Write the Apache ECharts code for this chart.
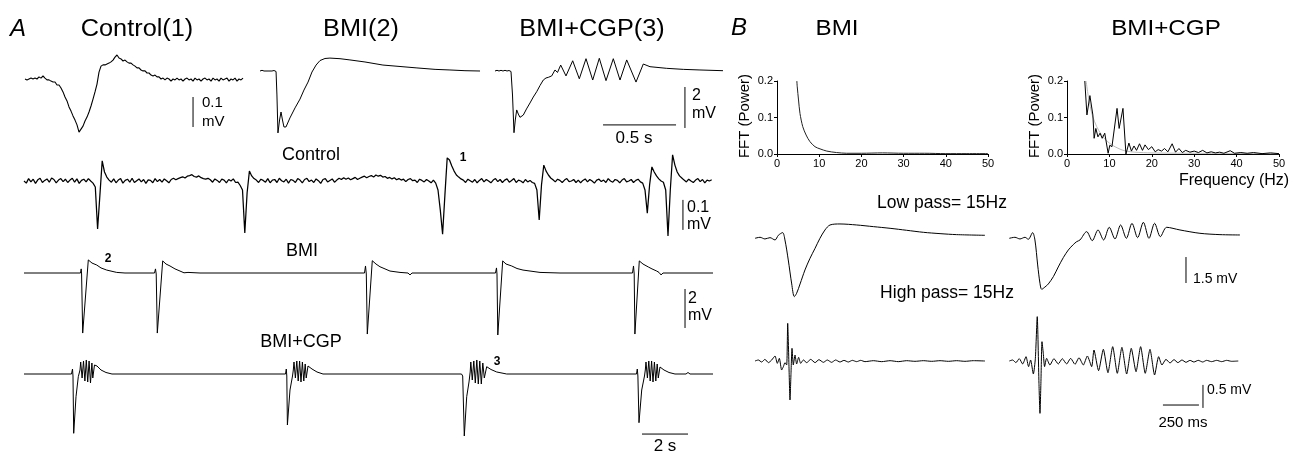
<!DOCTYPE html>
<html><head><meta charset="utf-8">
<script src="https://cdn.jsdelivr.net/npm/echarts@6/dist/echarts.min.js"></script>
<style>html,body{margin:0;padding:0;background:#fff}#c{width:1311px;height:452px}</style>
</head><body><div id="c"></div>
<script>
// ---------------- DATA ----------------
// Panel A insets: time in ms, voltage in mV (control in microvolts)
const ctl1Dt = 13.7; // ms per sample
const ctl1UV = [0,-3,0,3,0,3,0,7,3,10, 3,-3,-3,-7,-10,-10,-20,-20,-30,-43, -60,-73,-93,-107,-123,-137,-153,-177,-167,-157,
 -140,-127,-110,-90,-67,-43,-17,23,43,47, 47,50,53,57,63,73,80,70,67,60, 63,57,53,53,47,43,37,37,30,27,
 27,20,20,13,10,13,7,7,0,3, -3,3,0,-7,0,-3,3,-3,0,-7, 0,3,-3,0,-7,3,-3,0,-7,0, 3,-3,0,-7,3,-3,0,-7,3,-3, 0,3,-7,0,-3,3,-7,0,-3,3];
const bmi2 = [[0,0],[13.7,0.034],[27.4,0],[41,0.034],[55,0],[68.5,0.034],[82,0],[96,0.024],[110,-0.024],[116,-1.17],[123,-3.02],[134,-2.39],[144,-2.0],[154,-2.39],[164,-2.73],[178,-2.73],[205,-2.29],[240,-1.8],[274,-1.37],[301,-0.93],[329,-0.54],[356,-0.05],[384,0.29],[411,0.51],[445,0.61],[479,0.63],[548,0.6],[616,0.54],[719,0.44],[842,0.29],[959,0.22],[1075,0.15],[1199,0.08],[1301,0.05],[1404,0.015],[1507,0]];
const cgp3 = [[0,0],[13.7,0.034],[27.4,0],[41.1,0.034],[54.8,0],[68.5,0.034],[82.2,0],[95.9,0.024],[109.6,-0.024],[119.9,-1.171],[130.1,-3.01],[139,-2.39],[148.6,-1.9],[159.6,-2.1],[171.2,-2.26],[193.8,-2.15],[215.8,-1.85],[239.7,-1.56],[262.3,-1.27],[285.6,-1.01],[308.2,-0.71],[330.8,-0.44],[349.3,-0.34],[365.1,-0.31],[388.4,-0.24],[410.9,0.05],[428.1,-0.07],[450,0.29],[486.3,-0.24],[532.2,0.5],[577.4,-0.38],[623.3,0.6],[669.2,-0.44],[714.4,0.62],[760.3,-0.47],[810.3,0.6],[856.2,-0.44],[902.1,0.54],[965.8,-0.54],[1015.7,0.34],[1061.6,0.21],[1176,0.13],[1289.7,0.08],[1404,0.05],[1561.6,0.015]];

// Panel A long traces: time in s
const ctlLongDt = 0.1; // s per sample, microvolts
const ctlLongUV = [0,-7,8,-3,6,-8,4,9,-5,2, 7,-4,10,5,-6,3,8,-2,6,-5, 3,9,-4,7,-8,2,6,-3,8,0,
 -7,-20,-160,-47,67,30,13,3,-4,7, -6,3,8,-7,2,6,-4,9,-5,1, 7,-3,5,-8,4,2,-6,8,-2,5,
 -4,7,1,-6,5,9,4,8,11,14, 10,16,18,21,15,13,17,11,8,6, 9,4,-4,7,2,-5,6,3,-6,5,
 0,7,-5,-4,-15,-30,-173,-40,33,17, 8,3,-5,6,2,-4,8,-6,3,5, -5,9,1,-3,6,-7,5,2,-5,8,
 3,-6,5,9,-2,3,-5,7,1,-8, 5,8,-3,2,7,-4,3,9,5,11, 6,10,4,8,12,5,9,13,16,11,
 15,18,13,20,16,19,13,15,9,12, 7,11,4,8,3,6,-2,5,8,1, 3,-5,6,2,-3,5,0,-6,3,-7,
 -30,-97,-177,-47,77,70,50,33,20,13,7, 3,-5,6,1,-4,5,-6,2,8,
 -3,5,0,-6,3,8,-2,5,-5,3, 7,-4,2,8,-5,3,0,-6,5,-3, 2,-5,-8,
 -30,-130,-13,53,33,20,10, 4,-3,6,2,-5,3,8,-2,0,5, -5,3,-6,2,7,-3,5,0,-7,3,
 6,-2,3,-5,8,0,-4,5,2,-6, 3,8,-3,0,5,-5,2,6,-3,-7,
 -30,-107,-13,47,30,17,7, 0,-4,-30,-183,-30,87,53,30,17,10,3, -3,6,0,-5,3,8,-2,5,-6,3,0,4];
const bmiLong = [[0,0],[2.457,0],[2.487,0.21],[2.504,-0.05],[2.552,-3.08],[2.796,0.67],[2.957,0.51],[3.161,0.41],[3.348,0.26],[3.596,0.15],[4.03,0.03],[4.391,0],
 [5.674,0],[5.717,0.21],[5.748,-0.05],[5.796,-3.08],[6.03,0.62],[6.174,0.46],[6.348,0.36],[6.565,0.21],[6.783,0.1],[6.957,0.01],[7.022,-0.08],[7.13,0.03],[7.652,0],
 [11.522,0],[11.587,-0.08],[11.652,0],
 [14.804,0],[14.848,0.36],[14.883,-0.05],[14.926,-3.13],[15.143,0.63],[15.304,0.46],[15.478,0.32],[15.696,0.21],[15.913,0.1],[16.348,0.03],[16.696,0],[16.783,-0.1],[16.87,0],
 [20.5,0],[20.543,0.26],[20.565,-0.05],[20.6,-3.18],[20.813,0.62],[20.957,0.46],[21.204,0.36],[21.435,0.23],[21.696,0.15],[22.435,0.03],[23.304,0],
 [26.457,0],[26.5,0.36],[26.53,-0.05],[26.561,-3.13],[26.752,0.62],[26.913,0.46],[27.143,0.31],[27.304,0.21],[27.509,0.1],[27.609,0.03],[27.696,-0.1],[27.783,0],[29.957,0]];
const cgpLong = [[0,0],[2.065,0],[2.109,0.256],[2.13,-0.103],[2.161,-3.041],[2.261,-1.164],[2.361,-0.138],[2.435,0.205],
 [2.465,0.615],[2.526,-0.205],[2.587,0.667],[2.648,-0.359],[2.709,0.718],[2.77,-0.41],[2.83,0.667],[2.891,-0.462],[2.952,0.564],[2.991,-0.205],[3.065,0.462],[3.174,0.41],[3.348,0.205],[3.565,0.077],[3.826,0],
 [11.37,0],[11.404,0.256],[11.426,-0.103],[11.452,-2.615],[11.565,-0.821],[11.674,-0.103],[11.709,0.205],
 [11.739,0.615],[11.8,-0.205],[11.861,0.667],[11.922,-0.359],[11.983,0.667],[12.043,-0.41],[12.104,0.615],[12.165,-0.359],[12.226,0.513],[12.27,-0.205],[12.348,0.41],[12.522,0.256],[12.739,0.103],[13,0],
 [19.022,0],[19.074,-0.103],[19.143,-3.179],[19.248,-1.164],[19.348,-0.41],[19.4,0.103],
 [19.426,0.615],[19.491,-0.308],[19.557,0.667],[19.622,-0.462],[19.687,0.718],[19.752,-0.513],[19.817,0.667],[19.883,-0.513],[19.948,0.564],[20.013,-0.205],[20.117,0.374],[20.304,0.231],[20.552,0.103],[20.987,0],
 [26.63,0],[26.665,0.256],[26.691,-0.103],[26.739,-2.497],[26.857,-0.821],[26.978,-0.103],[27.013,0.205],
 [27.043,0.615],[27.104,-0.205],[27.165,0.667],[27.226,-0.359],[27.287,0.667],[27.348,-0.41],[27.409,0.615],[27.47,-0.359],[27.53,0.513],[27.578,-0.205],[27.652,0.359],[27.826,0.205],[28.043,0.077],[28.304,0],[28.783,0],[28.87,0.077],[28.957,0],[29.957,0]];

// Panel B FFT (Hz, power)
const fftXTicks = [0,10,20,30,40,50];
const fftYTicks = [0,0.1,0.2];
const fftBMI = [[4.7,0.2],[4.8,0.184],[5.1,0.148],[5.45,0.111],[6.1,0.075],[6.9,0.052],[7.8,0.034],[9,0.02],[10.2,0.014],[11.8,0.008],[14.1,0.004],[16.5,0.002],[20,0.002],[25,0.003],[30,0.002],[35,0.002],[40,0.001],[45,0.001],[50,0.001]];
const fftCGP = [[4.2,0.2],[4.7,0.107],[5.4,0.16],[6.1,0.107],[6.4,0.043],[6.8,0.07],[7.3,0.047],[7.8,0.057],[8.3,0.043],[8.9,0.057],[9.7,0.002],[10.1,0.024],[10.6,0.02],[11.8,0.125],[12.3,0.07],[13.2,0.125],[13.9,0.0],[14.6,0.03],[15.2,0.008],[15.8,0.022],[16.4,0.01],[17.1,0.028],[17.8,0.01],[18.4,0.025],[19.2,0.012],[20,0.02],[20.8,0.006],[21.5,0.012],[22.3,0.008],[23,0.015],[23.8,0.006],[24.8,0.028],[25.6,0.005],[26.4,0.015],[27.2,0.004],[28,0.01],[29,0.005],[30,0.008],[31,0.004],[32,0.01],[33,0.003],[34,0.006],[35,0.003],[36,0.005],[37,0.002],[38.5,0.009],[39.5,0.002],[41,0.004],[42.5,0.002],[44,0.004],[46,0.001],[48,0.003],[50,0.001]];
const fftCGPRef = [[4.5,0.2],[5,0.16],[5.5,0.13],[6,0.105],[7,0.075],[8,0.055],[9,0.04],[10,0.03],[11,0.022],[12,0.016],[13,0.011],[14,0.008],[16,0.005],[20,0.003],[30,0.002],[50,0.001]];

// Panel B filtered traces: time ms, voltage mV
const lpBMI = [[0,0],[35,0.058],[69,-0.038],[104,0.038],[139,-0.096],[162,0.173],[192,0.327],[208,-0.096],[231,-1.25],[255,-2.635],[273,-3.365],[289,-3.173],[313,-2.635],[347,-1.827],[382,-1.154],[417,-0.577],[451,0],[486,0.481],[521,0.769],[590,0.827],[706,0.769],[822,0.673],[938,0.577],[1053,0.462],[1169,0.346],[1285,0.269],[1400,0.212],[1597,0.173]];
const lpCGP = [[0,0],[39,0.058],[74,-0.038],[109,0.058],[132,-0.058],[162,0.327],[178,-0.096],[197,-1.538],[213,-2.596],[225,-2.942],[248,-2.808],[271,-2.635],[306,-2.212],[340,-1.654],[375,-1.115],[410,-0.673],[444,-0.365],[468,-0.192],[491,-0.096],[537,0.385],[576,-0.135],[616,0.481],[655,-0.096],[694,0.635],[734,-0.038],[773,0.769],[813,0],[852,0.865],[891,0.038],[931,0.923],[970,0],[1009,0.865],[1049,0.096],[1093,0.635],[1185,0.481],[1324,0.288],[1463,0.212],[1602,0.192]];
const hpBMI = [[0,0],[23,0.022],[46,-0.022],[69,0.036],[93,-0.036],[116,0.022],[139,0.109],[155,-0.051],[169,0.058],[185,-0.196],[197,-0.123],[208,-0.036],[220,-0.087],[227,0.819],[236,-0.123],[243,-0.848],[250,-0.268],[257,0.275],[266,-0.087],[278,0.13],[289,-0.065],[303,0.08],[317,-0.051],[336,0.022],[359,-0.036],[387,0.036],[417,-0.036],[444,0.029],[475,-0.029],[502,0.022],[532,-0.029],[560,0.022],[590,-0.022],[618,0.014],[648,-0.022],[676,0.014],[706,-0.014],[734,0.014],[764,-0.014],[822,0.007],[880,-0.014],[938,0.007],[995,-0.014],[1053,0.007],[1111,-0.007],[1169,0.007],[1227,-0.007],[1285,0.007],[1343,-0.007],[1400,0.007],[1458,-0.007],[1516,0.007],[1597,0]];
const hpCGP = [[0,0],[23,0.022],[46,-0.036],[69,0.051],[93,-0.065],[116,0.094],[134,-0.123],[148,0.022],[167,-0.283],[181,0.058],[194,0.964],[206,-0.486],[213,-1.138],[220,-0.413],[227,0.42],[236,0.167],[245,-0.123],[259,0.058],[282,-0.087],[310,0.051],[340,-0.065],[368,0.051],[398,-0.065],[426,0.058],[456,-0.072],[484,0.072],[514,-0.087],[542,0.109],[572,-0.123],[588,0.239],[620,-0.21],[653,0.254],[685,-0.254],[718,0.312],[750,-0.268],[782,0.297],[815,-0.283],[847,0.275],[880,-0.232],[912,0.312],[944,-0.268],[977,0.254],[1009,-0.304],[1037,0.094],[1060,-0.087],[1088,0.036],[1116,-0.043],[1144,0.029],[1171,-0.036],[1199,0.022],[1227,-0.029],[1255,0.014],[1282,-0.022],[1312,0.014],[1343,-0.022],[1370,0.014],[1405,-0.014],[1440,0.014],[1475,-0.014],[1509,0.014],[1544,-0.007],[1590,0]];

// Scale bars (in each trace's own data units)
const scaleBars = [
  {g:'ctl1', pts:[[1151,-60],[1151,-160]]},       // 0.1 mV = 100 uV
  {g:'cgp3', pts:[[1301,-0.78],[1301,-2.78]]},     // 2 mV
  {g:'cgp3', pts:[[740,-2.63],[1240,-2.63]]},      // 0.5 s
  {g:'ctlL', pts:[[28.65,-63],[28.65,-163]]},      // 0.1 mV
  {g:'bmiL', pts:[[28.74,-0.82],[28.74,-2.82]]},   // 2 mV
  {g:'cgpL', pts:[[26.87,-3.08],[28.87,-3.08]]},   // 2 s
  {g:'lp2',  pts:[[1227,-1.08],[1227,-2.58]]},     // 1.5 mV
  {g:'hp2',  pts:[[1345,-0.52],[1345,-1.02]]},     // 0.5 mV
  {g:'hp2',  pts:[[1067,-0.957],[1317,-0.957]]}    // 250 ms
];

// ---------------- LAYOUT ----------------
const FF = '"Liberation Sans", Arial, Helvetica, sans-serif';
const grids=[], xAxes=[], yAxes=[], series=[], graphics=[], gid={};
function addTrace(name, c){
  const i = grids.length; gid[name]=i;
  grids.push({left:c.left, top:c.base-c.up, width:c.width, height:c.up+c.down});
  xAxes.push({type:'value', gridIndex:i, min:0, max:c.width/c.pxX, show:false});
  yAxes.push({type:'value', gridIndex:i, min:-c.down/c.pxY, max:c.up/c.pxY, show:false});
}
function fftGrid(name, left, width){
  const i = grids.length; gid[name]=i;
  grids.push({left, top:81, width, height:73});
  const ax = {axisLine:{show:true,onZero:false,lineStyle:{color:'#000',width:1}},
    axisTick:{show:true,length:3,lineStyle:{color:'#000',width:1}}, splitLine:{show:false}};
  xAxes.push(Object.assign({type:'value', gridIndex:i, min:fftXTicks[0], max:fftXTicks[fftXTicks.length-1],
    interval:fftXTicks[1]-fftXTicks[0], axisLabel:{color:'#000',fontSize:11,fontFamily:FF,margin:4}}, ax));
  yAxes.push(Object.assign({type:'value', gridIndex:i, min:fftYTicks[0], max:fftYTicks[fftYTicks.length-1],
    interval:fftYTicks[1]-fftYTicks[0], axisLabel:{color:'#000',fontSize:11,fontFamily:FF,margin:4,formatter:v=>v.toFixed(1)}}, ax));
}
addTrace('ctl1',{left:25, base:79, pxX:0.146, pxY:0.3, width:225, up:30, down:60});
addTrace('bmi2',{left:260, base:71, pxX:0.146, pxY:20.5, width:225, up:20, down:65});
addTrace('cgp3',{left:495, base:71, pxX:0.146, pxY:20.5, width:235, up:20, down:65});
addTrace('ctlL',{left:24, base:181, pxX:23, pxY:0.3, width:695, up:35, down:60});
addTrace('bmiL',{left:24, base:273, pxX:23, pxY:19.5, width:695, up:20, down:65});
addTrace('cgpL',{left:24, base:374, pxX:23, pxY:19.5, width:695, up:20, down:65});
fftGrid('fft1', 777, 211);
fftGrid('fft2', 1067, 212);
addTrace('lp1',{left:755, base:238.3, pxX:0.144, pxY:17.33, width:235, up:20, down:65});
addTrace('lp2',{left:1009.3, base:238.3, pxX:0.144, pxY:17.33, width:235, up:20, down:65});
addTrace('hp1',{left:755, base:361, pxX:0.144, pxY:46, width:235, up:45, down:55});
addTrace('hp2',{left:1009.3, base:361, pxX:0.144, pxY:46, width:235, up:45, down:55});

function line(name, data, extra){
  const i = gid[name];
  series.push(Object.assign({type:'line', xAxisIndex:i, yAxisIndex:i, data, symbol:'none', showSymbol:false,
    clip:false, silent:true, animation:false, lineStyle:{color:'#000', width:1}}, extra||{}));
}
const uniform = (arr, dt) => arr.map((v,k)=>[k*dt, v]);
line('ctl1', uniform(ctl1UV, ctl1Dt), {lineStyle:{color:'#000',width:1.1}});
line('bmi2', bmi2);
line('cgp3', cgp3);
line('ctlL', uniform(ctlLongUV, ctlLongDt), {lineStyle:{color:'#000',width:1.25}});
line('bmiL', bmiLong);
line('cgpL', cgpLong);
line('fft1', fftBMI, {lineStyle:{color:'#222',width:1}, smooth:0.3});
line('fft2', fftCGPRef, {lineStyle:{color:'#bbb',width:1}, smooth:0.3});
line('fft2', fftCGP, {lineStyle:{color:'#000',width:1}});
line('lp1', lpBMI, {smooth:0.3});
line('lp2', lpCGP, {smooth:0.3});
line('hp1', hpBMI, {smooth:0.2});
line('hp2', hpCGP, {smooth:0.2});
scaleBars.forEach(b => line(b.g, b.pts));

function txt(s, x, y, size, o){
  o = o||{};
  const al = o.align||'center';
  graphics.push({type:'text', x, y, scaleX:o.sx||1, rotation:o.rot||0, silent:true,
    style:{text:s, font:(o.w?o.w+' ':'')+size+'px '+FF, fill:'#000',
      align:al, verticalAlign:'middle', textAlign:al, textVerticalAlign:'middle'}});
}
txt('A', 18, 29, 24, {w:'italic'});
txt('Control(1)', 137, 30, 23, {sx:1.1});
txt('BMI(2)', 361, 30, 23, {sx:1.1});
txt('BMI+CGP(3)', 592, 30, 23, {sx:1.1});
txt('B', 739, 28, 24, {w:'italic'});
txt('BMI', 837, 29, 22, {sx:1.1});
txt('BMI+CGP', 1166, 29, 22, {sx:1.1});
txt('0.1', 202, 103, 15, {align:'left'});
txt('mV', 202, 122, 15, {align:'left'});
txt('2', 692, 96, 16, {align:'left'});
txt('mV', 692, 114, 16, {align:'left'});
txt('0.5 s', 634, 138, 17);
txt('Control', 311, 155, 18);
txt('1', 463, 158, 12, {w:'bold'});
txt('0.1', 687, 208, 16, {align:'left'});
txt('mV', 687, 225, 16, {align:'left'});
txt('BMI', 302, 251, 18);
txt('2', 108, 259, 12, {w:'bold'});
txt('2', 688, 299, 16, {align:'left'});
txt('mV', 688, 316, 16, {align:'left'});
txt('BMI+CGP', 301, 342, 18);
txt('3', 497, 362, 12, {w:'bold'});
txt('2 s', 665, 446, 17);
txt('FFT (Power)', 745, 116, 15, {rot:Math.PI/2});
txt('FFT (Power)', 1035, 116, 15, {rot:Math.PI/2});
txt('Frequency (Hz)', 1234, 181, 16);
txt('Low pass= 15Hz', 942, 203, 17.5);
txt('High pass= 15Hz', 947, 293, 17.5);
txt('1.5 mV', 1193, 279, 14, {align:'left'});
txt('0.5 mV', 1207, 390, 14, {align:'left'});
txt('250 ms', 1183, 423, 15);

const chart = echarts.init(document.getElementById('c'), null, {renderer:'canvas'});
chart.setOption({animation:false, backgroundColor:'#fff', grid:grids, xAxis:xAxes, yAxis:yAxes, series, graphic:{elements:graphics}});
</script></body></html>
